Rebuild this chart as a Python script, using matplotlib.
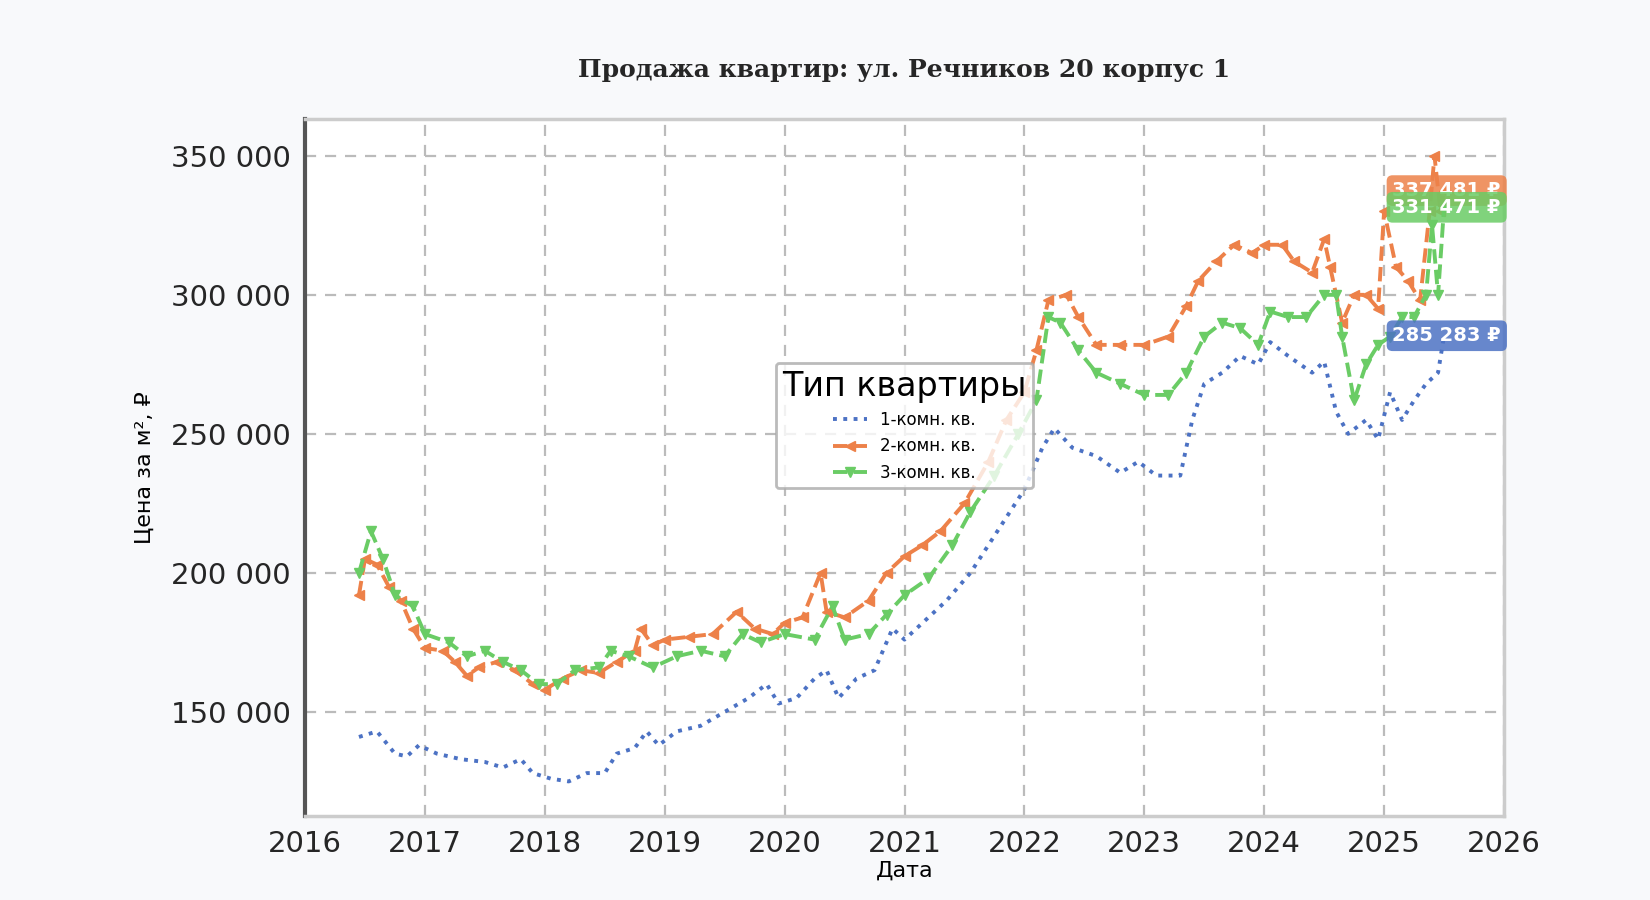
import matplotlib
matplotlib.use("Agg")
import matplotlib.pyplot as plt

x1 = [2016.45,2016.6,2016.75,2016.85,2016.95,2017.1,2017.3,2017.5,2017.65,2017.8,2017.9,2018.05,2018.2,2018.35,2018.5,2018.6,2018.75,2018.85,2018.95,2019.1,2019.3,2019.5,2019.7,2019.85,2019.95,2020.1,2020.25,2020.35,2020.45,2020.6,2020.75,2020.9,2021.0,2021.15,2021.35,2021.55,2021.7,2021.85,2022.0,2022.15,2022.25,2022.4,2022.6,2022.8,2022.95,2023.1,2023.3,2023.4,2023.5,2023.65,2023.8,2023.95,2024.05,2024.2,2024.4,2024.5,2024.6,2024.7,2024.85,2024.95,2025.05,2025.15,2025.25,2025.35,2025.45,2025.5]
y1 = [141,143,135,134,138,135,133,132,130,133,128,126,125,128,128,135,137,143,138,143,145,150,155,160,153,155,162,165,155,162,165,180,176,182,190,200,210,220,230,245,252,245,242,236,240,235,235,255,268,272,278,275,283,278,272,276,258,250,255,248,265,255,262,268,272,285.283]

x2 = [2016.45,2016.5,2016.6,2016.7,2016.8,2016.9,2017.0,2017.15,2017.25,2017.35,2017.45,2017.6,2017.75,2017.9,2018.0,2018.15,2018.3,2018.45,2018.6,2018.75,2018.8,2018.9,2019.0,2019.2,2019.4,2019.6,2019.75,2019.9,2020.0,2020.15,2020.3,2020.35,2020.5,2020.7,2020.85,2021.0,2021.15,2021.3,2021.5,2021.7,2021.85,2022.0,2022.1,2022.2,2022.35,2022.45,2022.6,2022.8,2023.0,2023.2,2023.35,2023.45,2023.6,2023.75,2023.9,2024.0,2024.15,2024.25,2024.4,2024.5,2024.55,2024.65,2024.75,2024.85,2024.95,2025.0,2025.1,2025.2,2025.3,2025.38,2025.42,2025.47,2025.5]
y2 = [192,205,203,195,190,180,173,172,168,163,166,168,165,160,158,162,165,164,168,172,180,174,176,177,178,186,180,178,182,184,200,186,184,190,200,206,210,215,225,240,255,265,280,298,300,292,282,282,282,285,296,305,312,318,315,318,318,312,308,320,310,290,300,300,295,330,310,305,298,330,350,330,337.481]

x3 = [2016.45,2016.55,2016.65,2016.75,2016.9,2017.0,2017.2,2017.35,2017.5,2017.65,2017.8,2017.95,2018.1,2018.25,2018.45,2018.55,2018.7,2018.9,2019.1,2019.3,2019.5,2019.65,2019.8,2020.0,2020.25,2020.4,2020.5,2020.7,2020.85,2021.0,2021.2,2021.4,2021.55,2021.75,2021.95,2022.1,2022.2,2022.3,2022.45,2022.6,2022.8,2023.0,2023.2,2023.35,2023.5,2023.65,2023.8,2023.95,2024.05,2024.2,2024.35,2024.5,2024.6,2024.65,2024.75,2024.85,2024.95,2025.05,2025.15,2025.25,2025.35,2025.4,2025.45,2025.5]
y3 = [200,215,205,192,188,178,175,170,172,168,165,160,160,165,166,172,170,166,170,172,170,178,175,178,176,188,176,178,185,192,198,210,222,235,250,262,292,290,280,272,268,264,264,272,285,290,288,282,294,292,292,300,300,285,262,275,282,285,292,292,300,325,300,331.471]

names = ["1-комн. кв.", "2-комн. кв.", "3-комн. кв."]
colors = ["#4c72c4", "#ed8149", "#6acc65"]
labels = ["285 283 ₽", "337 481 ₽", "331 471 ₽"]

fig = plt.figure(figsize=(16.5, 9), dpi=100, facecolor="#f8f9fb")
ax = fig.add_axes([305/1650, 1-816/900, 1199/1650, 697/900])
ax.set_facecolor("white")

ax.plot(x1, [v*1000 for v in y1], ls=":", lw=2.8, color=colors[0], label=names[0])
ax.plot(x2, [v*1000 for v in y2], ls="--", lw=2.8, marker="<", ms=7, color=colors[1], label=names[1])
ax.plot(x3, [v*1000 for v in y3], ls="--", lw=2.8, marker="v", ms=7, color=colors[2], label=names[2])

for ys, c, t in [(y2, colors[1], labels[1]), (y3, colors[2], labels[2]), (y1, colors[0], labels[0])]:
    ax.text(2025.07, ys[-1]*1000, t, color="white", fontsize=14, fontweight="bold",
            va="center", ha="left",
            bbox=dict(boxstyle="round,pad=0.3", fc=c, ec="none", alpha=0.85))

ax.set_xlim(2016, 2026)
ax.set_ylim(112570, 363230)
ax.set_xticks(range(2016, 2027))
ax.set_yticks([150000, 200000, 250000, 300000, 350000])
ax.set_yticklabels(["150 000", "200 000", "250 000", "300 000", "350 000"])
ax.tick_params(labelsize=21, colors="#262626", length=0, pad=10)
ax.grid(True, ls=(0, (5, 4)), color="#bbbbbb", lw=1.6)
for s in ["top", "right", "bottom"]:
    ax.spines[s].set_color("#cccccc"); ax.spines[s].set_linewidth(2.5)
ax.spines["left"].set_color("#555555"); ax.spines["left"].set_linewidth(3)
ax.set_xlabel("Дата", fontsize=16, labelpad=2)
ax.set_ylabel("Цена за м², ₽", fontsize=16, labelpad=12)
ax.set_title("Продажа квартир: ул. Речников 20 корпус 1", fontsize=18, fontweight="bold",
             family="DejaVu Serif", pad=30, color="#262626")
leg = ax.legend(title="Тип квартиры", loc="center", bbox_to_anchor=(0.5, 0.56),
                fontsize=12, title_fontsize=24, framealpha=0.8, edgecolor="#aaaaaa")
leg.get_frame().set_linewidth(2)
fig.savefig("out.png", dpi=100, facecolor=fig.get_facecolor())
